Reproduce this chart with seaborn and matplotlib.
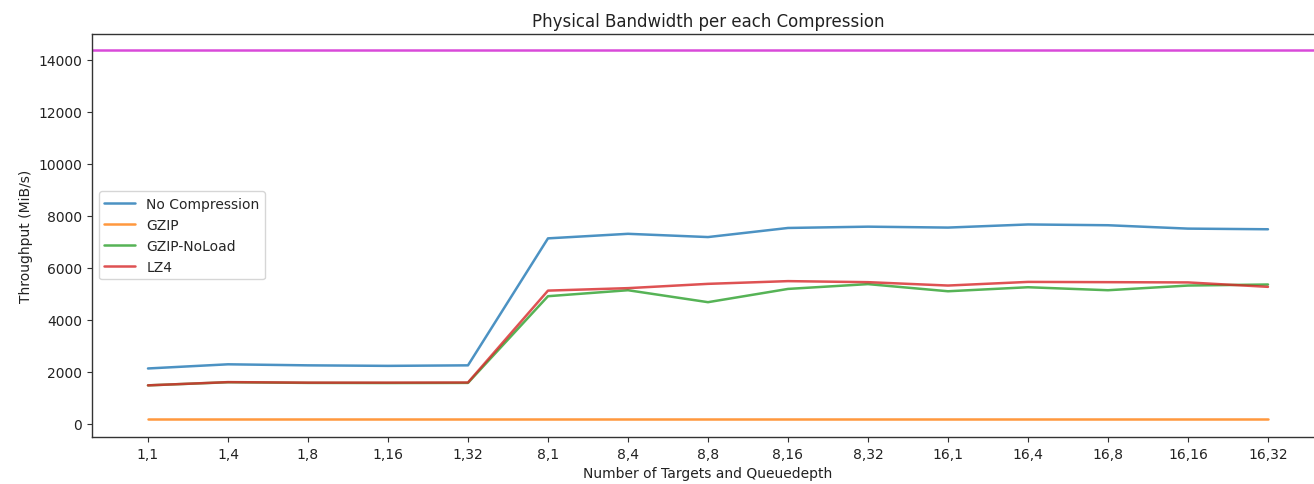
import numpy as np
import pandas as pd
import matplotlib
matplotlib.use("Agg")
import matplotlib.pyplot as plt
import seaborn as sns

# Data
configs = ["1,1", "1,4", "1,8", "1,16", "1,32", "8,1", "8,4", "8,8", "8,16",
           "8,32", "16,1", "16,4", "16,8", "16,16", "16,32"]
no_compression = [2130, 2290, 2250, 2230, 2250, 7135, 7310, 7185, 7535, 7585,
                  7550, 7670, 7640, 7510, 7485]
gzip = [205, 205, 205, 205, 205, 205, 205, 205, 205, 205,
        205, 205, 205, 205, 205]
gzip_noload = [1480, 1600, 1575, 1570, 1575, 4910, 5140, 4680, 5190, 5375,
               5100, 5255, 5140, 5320, 5360]
lz4 = [1480, 1605, 1585, 1585, 1590, 5125, 5220, 5385, 5490, 5450,
       5320, 5460, 5450, 5440, 5270]
physical_limit = 14400

series = {"No Compression": no_compression, "GZIP": gzip,
          "GZIP-NoLoad": gzip_noload, "LZ4": lz4}

rows = []
for name, vals in series.items():
    for i, v in enumerate(vals):
        rows.append({"pos": i, "config": configs[i], "compression": name, "throughput": v})
df = pd.DataFrame(rows)

sns.set_style("ticks")
plt.rcParams["font.family"] = ["DejaVu Sans"]

fig = plt.figure(figsize=(13.14, 4.85), dpi=100)
ax = fig.add_axes([0.070, 0.097, 0.9376, 0.831])

palette = ["#1f77b4", "#ff7f0e", "#2ca02c", "#d62728"]
sns.lineplot(data=df, x="pos", y="throughput", hue="compression", palette=palette,
             sort=False, linewidth=1.8, alpha=0.8, ax=ax)
# physical bandwidth limit
ax.axhline(physical_limit, color="#d94ad9", linewidth=1.8)

ax.set_xticks(range(len(configs)))
ax.set_xticklabels(configs)
ax.margins(x=0.05)
ax.set_ylim(top=15000)
ax.set_yticks(range(0, 15000, 2000))

for s in ax.spines.values():
    s.set_color("#333333")
    s.set_linewidth(1.0)
ax.tick_params(colors="#333333", labelcolor="#222222", labelsize=10, length=3.5)

ax.set_title("Physical Bandwidth per each Compression", fontsize=12, color="#222222")
ax.set_xlabel("Number of Targets and Queuedepth", fontsize=10, color="#222222")
ax.set_ylabel("Throughput (MiB/s)", fontsize=10, color="#222222")
ax.legend(loc="center left", fontsize=10, title=None, handlelength=2.2)

fig.savefig("out.png", dpi=100)
